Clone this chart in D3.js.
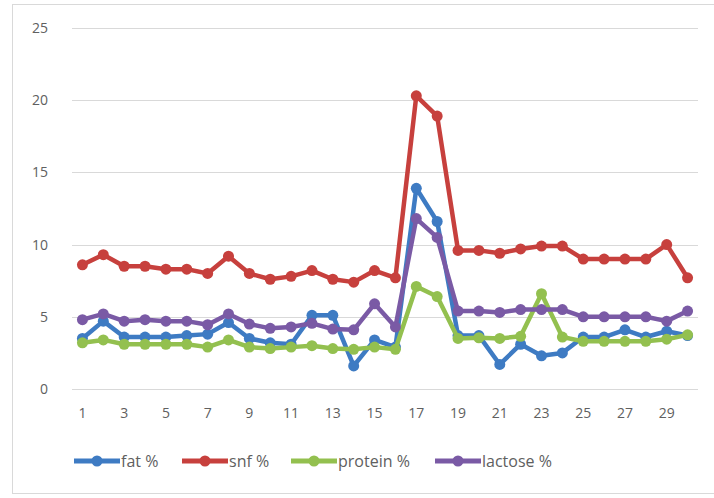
<!DOCTYPE html>
<html>
<head>
<meta charset="utf-8">
<script src="https://cdnjs.cloudflare.com/ajax/libs/d3/7.8.5/d3.min.js"></script>
<style>
	body { margin: 0; background: #ffffff; }
	svg text { font-family: "Open Sans", "Noto Sans", sans-serif; fill: #606060; }
</style>
</head>
<body>
<div id="chart"></div>
<script>
//=================== DATA ====================================
var days = d3.range(1, 31);
var yTicks = [0, 5, 10, 15, 20, 25];

var fatValues = [3.5, 4.7, 3.6, 3.6, 3.6, 3.7, 3.8, 4.6, 3.5, 3.2,
	3.1, 5.1, 5.1, 1.6, 3.4, 2.9, 13.9, 11.6, 3.7, 3.7,
	1.7, 3.1, 2.3, 2.5, 3.6, 3.6, 4.1, 3.6, 4.0, 3.7];
var snfValues = [8.6, 9.3, 8.5, 8.5, 8.3, 8.3, 8.0, 9.2, 8.0, 7.6,
	7.8, 8.2, 7.6, 7.4, 8.2, 7.7, 20.3, 18.9, 9.6, 9.6,
	9.4, 9.7, 9.9, 9.9, 9.0, 9.0, 9.0, 9.0, 10.0, 7.7];
var proteinValues = [3.2, 3.4, 3.1, 3.1, 3.1, 3.1, 2.9, 3.4, 2.9, 2.8,
	2.9, 3.0, 2.8, 2.75, 2.9, 2.75, 7.1, 6.4, 3.5, 3.55,
	3.5, 3.65, 6.6, 3.6, 3.3, 3.3, 3.3, 3.3, 3.45, 3.75];
var lactoseValues = [4.8, 5.2, 4.7, 4.8, 4.7, 4.7, 4.45, 5.2, 4.5, 4.2,
	4.3, 4.55, 4.15, 4.1, 5.9, 4.3, 11.8, 10.5, 5.4, 5.4,
	5.3, 5.5, 5.5, 5.5, 5.0, 5.0, 5.0, 5.0, 4.7, 5.4];

var seriesNames = ["fat %", "snf %", "protein %", "lactose %"];
var seriesColours = ["#3e7bc3", "#c7403d", "#93c04f", "#7a5aa5"];

//=================== LAYOUT ====================================
var svgWidth = 714;
var svgHeight = 498;
var plotLeft = 72, plotRight = 698, plotTop = 28, plotBottom = 389;

var svg = d3.select("#chart").append("svg")
	.attr("width", svgWidth)
	.attr("height", svgHeight);

// chart area border
svg.append("rect")
	.attr("x", 12.5).attr("y", 4.5)
	.attr("width", 710).attr("height", 489)
	.attr("fill", "none")
	.attr("stroke", "#d9d9d9");

var xScale = d3.scaleBand()
	.domain(days)
	.range([plotLeft, plotRight]);

var yScale = d3.scaleLinear()
	.domain([0, 25])
	.range([plotBottom, plotTop]);

function xPos(d, i) { return xScale(days[i]) + xScale.bandwidth() / 2; }

//=================== GRIDLINES & AXES ====================================
svg.append("g")
	.selectAll("line")
	.data(yTicks)
	.enter()
	.append("line")
	.attr("x1", plotLeft)
	.attr("x2", plotRight)
	.attr("y1", function (d) { return Math.round(yScale(d)) + 0.5; })
	.attr("y2", function (d) { return Math.round(yScale(d)) + 0.5; })
	.attr("stroke", "#d9d9d9")
	.attr("stroke-width", 1);

svg.append("g")
	.selectAll("text")
	.data(yTicks)
	.enter()
	.append("text")
	.attr("x", 48)
	.attr("y", function (d) { return yScale(d); })
	.attr("dy", "0.35em")
	.attr("text-anchor", "end")
	.style("font-size", "14px")
	.text(function (d) { return d; });

// every other day label, like the original
svg.append("g")
	.selectAll("text")
	.data(days.filter(function (d) { return d % 2 === 1; }))
	.enter()
	.append("text")
	.attr("x", function (d) { return xScale(d) + xScale.bandwidth() / 2; })
	.attr("y", 413)
	.attr("dy", "0.35em")
	.attr("text-anchor", "middle")
	.style("font-size", "14px")
	.text(function (d) { return d; });

//=================== LINES ====================================
var allSeries = [fatValues, snfValues, proteinValues, lactoseValues];

var line = d3.line()
	.x(xPos)
	.y(function (d) { return yScale(d); });

allSeries.forEach(function (values, s) {
	var grp = svg.append("g").classed("series", true);

	grp.append("path")
		.datum(values)
		.attr("d", line)
		.attr("fill", "none")
		.attr("stroke", seriesColours[s])
		.attr("stroke-width", 4.5)
		.attr("stroke-linejoin", "round");

	grp.selectAll("circle")
		.data(values)
		.enter()
		.append("circle")
		.attr("cx", xPos)
		.attr("cy", function (d) { return yScale(d); })
		.attr("r", 5.5)
		.attr("fill", seriesColours[s]);
});

//=================== LEGEND ====================================
var legendX = [74, 182, 291, 435];
var legend = svg.append("g")
	.selectAll("g")
	.data(seriesNames)
	.enter()
	.append("g")
	.attr("transform", function (d, i) { return "translate(" + [legendX[i], 461] + ")"; });

legend.append("line")
	.attr("x1", 0).attr("x2", 46)
	.attr("stroke", function (d, i) { return seriesColours[i]; })
	.attr("stroke-width", 5);

legend.append("circle")
	.attr("cx", 23)
	.attr("r", 5.5)
	.attr("fill", function (d, i) { return seriesColours[i]; });

legend.append("text")
	.attr("x", 47)
	.attr("dy", "0.35em")
	.style("font-size", "16px")
	.text(function (d) { return d; });
</script>
</body>
</html>
